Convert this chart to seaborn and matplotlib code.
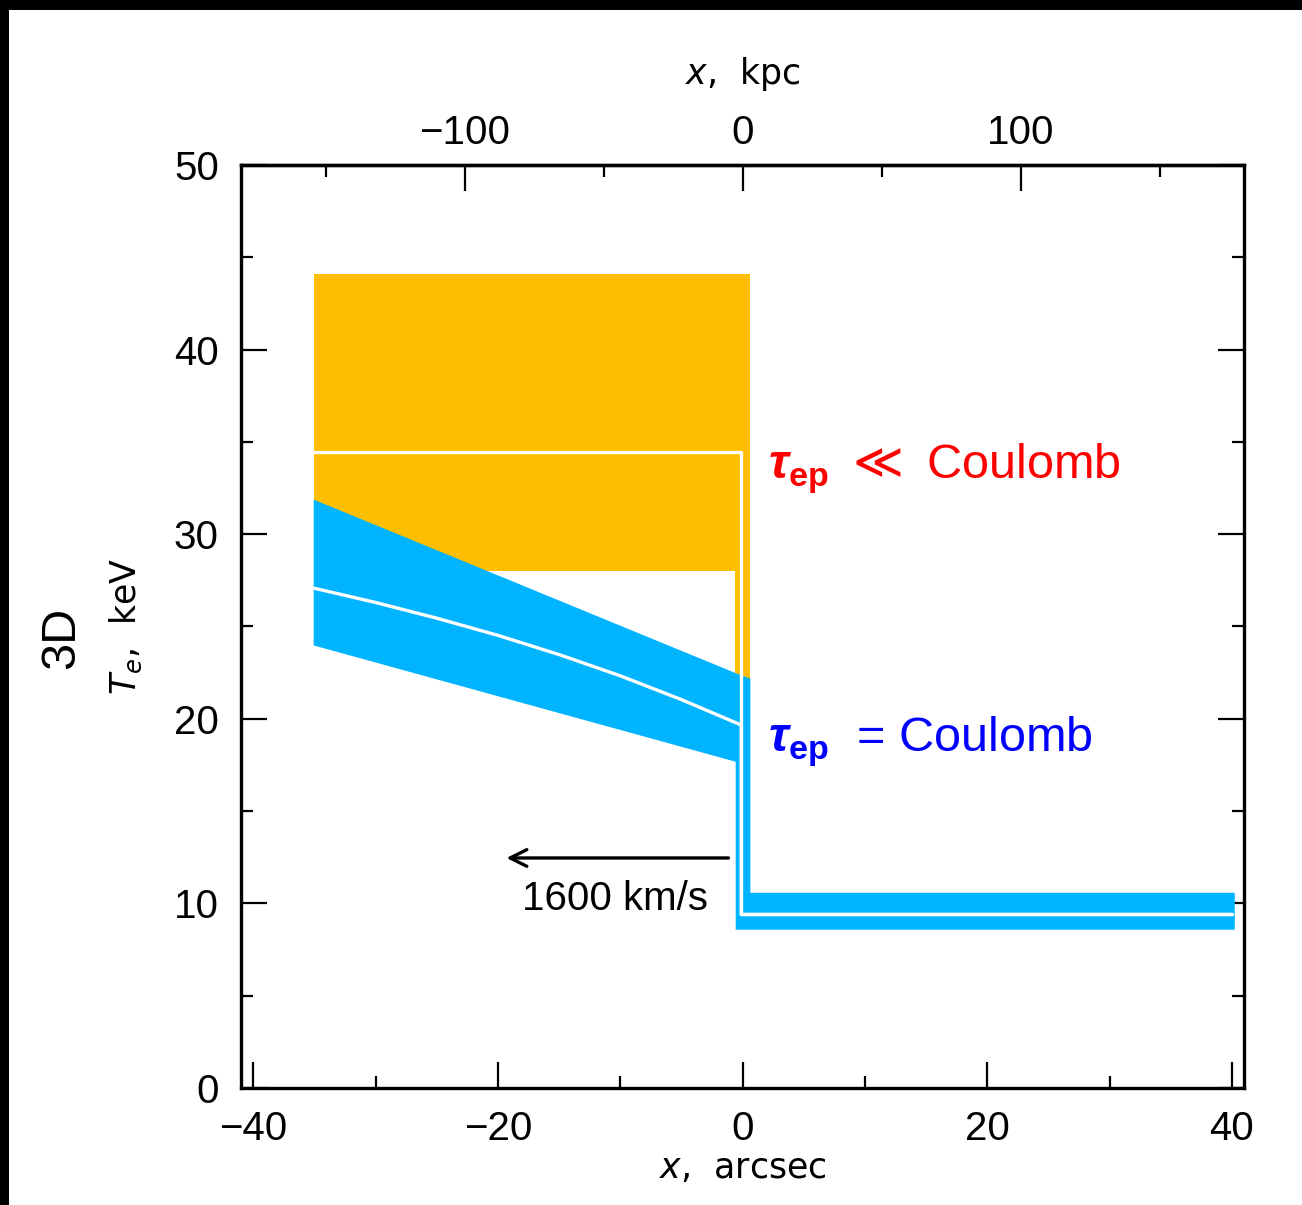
import numpy as np
import pandas as pd
import matplotlib
matplotlib.use("Agg")
import matplotlib.pyplot as plt
import seaborn as sns
from matplotlib.ticker import MultipleLocator, FixedLocator
from matplotlib.patches import Rectangle

# ---------------- data ----------------
# orange band (tau_ep << Coulomb)
orange_x = [-35.0, -0.6, -0.6, 0.6]
orange_lo = [28.0, 28.0, 20.0, 20.0]
orange_hi = [44.1, 44.1, 44.1, 44.1]
# orange central curve
orange_line_x = [-35.0, -0.1, -0.1, 40.0]
orange_line_y = [34.45, 34.45, 9.4, 9.4]

# blue band (tau_ep = Coulomb)
blue_x = [-35.1, -0.6, -0.6, 0.6, 0.6, 40.2]
blue_lo = [24.0, 17.7, 8.6, 8.6, 8.6, 8.6]
blue_hi = [31.9, 22.5, 22.5, 22.2, 10.6, 10.6]
# blue central curve
blue_line_x = [-35.0, -30.0, -25.0, -20.0, -15.0, -10.0, -5.0, -0.1, -0.1, 40.0]
blue_line_y = [27.07, 26.30, 25.45, 24.52, 23.48, 22.33, 21.04, 19.66, 9.4, 9.4]

kpc_per_arcsec = 4.4
top_major = [-100, 0, 100]
top_minor = [-150, -50, 50, 150]

# ---------------- style ----------------
sns.set_style("ticks")
plt.rcParams["font.family"] = ["Liberation Sans", "DejaVu Sans"]
plt.rcParams["mathtext.fontset"] = "custom"
plt.rcParams["mathtext.rm"] = "DejaVu Sans"
plt.rcParams["mathtext.it"] = "DejaVu Sans:italic"
plt.rcParams["mathtext.bf"] = "Liberation Sans:bold"
plt.rcParams["mathtext.bfit"] = "Liberation Sans:bold:italic"
for k in ["text.color", "axes.labelcolor", "xtick.color", "ytick.color", "axes.edgecolor"]:
    plt.rcParams[k] = "black"

ORANGE = "#FFBF00"
BLUE = "#00B4FF"

fig = plt.figure(figsize=(13.02, 12.05), dpi=100)
ax = fig.add_axes([0.1851, 0.0971, 0.7704, 0.766])

ax.fill_between(orange_x, orange_lo, orange_hi, color=ORANGE, lw=0)
ax.fill_between(blue_x, blue_lo, blue_hi, color=BLUE, lw=0)

df_o = pd.DataFrame({"x": orange_line_x, "y": orange_line_y})
df_b = pd.DataFrame({"x": blue_line_x, "y": blue_line_y})
sns.lineplot(data=df_o, x="x", y="y", sort=False, estimator=None, color="white", lw=2.4, ax=ax)
sns.lineplot(data=df_b, x="x", y="y", sort=False, estimator=None, color="white", lw=2.4, ax=ax)

ax.set_xlim(-41, 41)
ax.set_ylim(0, 50)

ax.xaxis.set_major_locator(MultipleLocator(20))
ax.xaxis.set_minor_locator(MultipleLocator(10))
ax.yaxis.set_major_locator(MultipleLocator(10))
ax.yaxis.set_minor_locator(MultipleLocator(5))
ax.tick_params(which="both", direction="in", top=False, right=True, width=1.6,
               labelsize=29, pad=16, colors="black")
ax.tick_params(which="major", length=18.5)
ax.tick_params(which="minor", length=8.6)
for s in ax.spines.values():
    s.set_linewidth(2.4)
    s.set_color("black")
    s.set_visible(True)

ax.set_xlabel(r"$x$,  arcsec", fontsize=25, family="DejaVu Sans", labelpad=2)
ax.set_ylabel("")

sec = ax.secondary_xaxis("top", functions=(lambda a: a * kpc_per_arcsec,
                                           lambda k: k / kpc_per_arcsec))
sec.xaxis.set_major_locator(FixedLocator(top_major))
sec.xaxis.set_minor_locator(FixedLocator(top_minor))
sec.tick_params(which="both", direction="in", width=1.6, labelsize=29, pad=9,
                colors="black")
sec.tick_params(which="major", length=18.5)
sec.tick_params(which="minor", length=8.6)
sec.spines["top"].set_linewidth(2.4)
sec.set_xlabel(r"$x$,  kpc", fontsize=25, family="DejaVu Sans", labelpad=22)

# y labels
fig.text(62 / 1302, 1 - 638 / 1205, "3D", rotation=90, fontsize=35,
         ha="center", va="center", family="Liberation Sans", color="black")
fig.text(126 / 1302, 1 - 626 / 1205, r"$T_e$,  keV", rotation=90, fontsize=25,
         ha="center", va="center", family="DejaVu Sans", color="black")

# annotations
ax.text(2.1, 33.0, r"$\boldsymbol{\tau}_{\mathbf{ep}}$ $\ll$ Coulomb", color="#FF0000",
        fontsize=35, ha="left", va="baseline", family="Liberation Sans")
ax.text(2.1, 18.2, r"$\boldsymbol{\tau}_{\mathbf{ep}}$  = Coulomb", color="#0000FF",
        fontsize=35, ha="left", va="baseline", family="Liberation Sans")

ax.annotate("", xy=(-19.3, 12.46), xytext=(-1.15, 12.46),
            arrowprops=dict(arrowstyle="->", color="black", lw=2.4,
                            mutation_scale=30, shrinkA=0, shrinkB=0))
ax.text(-10.4, 9.64, "1600 km/s", fontsize=29, ha="center", va="baseline",
        family="Liberation Sans", color="black")

# black frame (top and left)
fig.add_artist(Rectangle((0, 1 - 10 / 1205), 1, 10 / 1205, transform=fig.transFigure,
                         color="black", lw=0, zorder=10))
fig.add_artist(Rectangle((0, 0), 9 / 1302, 1, transform=fig.transFigure,
                         color="black", lw=0, zorder=10))

fig.savefig("out.png", dpi=100, facecolor="white")
